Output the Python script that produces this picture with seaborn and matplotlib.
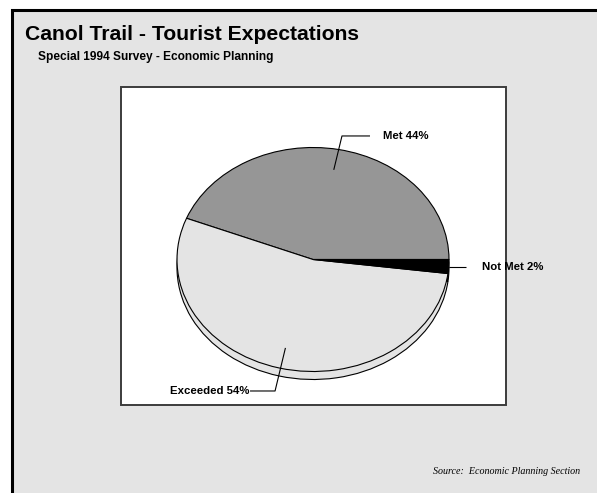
import matplotlib
matplotlib.use("Agg")
import matplotlib.pyplot as plt
from matplotlib.patches import Rectangle
import numpy as np
import seaborn as sns

# Survey results
categories = ["Met", "Exceeded", "Not Met"]
shares = [44, 54, 2]
slice_colors = ["#969696", "#e4e4e4", "#000000"]

title = "Canol Trail - Tourist Expectations"
subtitle = "Special 1994 Survey - Economic Planning"
source = "Source:  Economic Planning Section"

sns.set_style("white")
plt.rcParams["font.family"] = ["Liberation Sans", "DejaVu Sans"]
plt.rcParams["text.color"] = "black"

W, H = 597, 493
fig = plt.figure(figsize=(W / 100, H / 100), dpi=100)
fig.patch.set_facecolor("white")

# Background panel in pixel coordinates
bg = fig.add_axes([0, 0, 1, 1])
bg.set_xlim(0, W)
bg.set_ylim(H, 0)
bg.axis("off")
bg.add_patch(Rectangle((11.5, 9.5), 700, 700, facecolor="#e4e4e4",
                       edgecolor="black", lw=2.2, zorder=0))
bg.add_patch(Rectangle((120.5, 87), 385, 318, facecolor="white",
                       edgecolor="#3c3c3c", lw=1.4, zorder=1))

bg.text(25, 34, title, fontsize=15.2, fontweight="bold", va="center", ha="left")
bg.text(38, 57, subtitle, fontsize=8.6, fontweight="bold", va="center", ha="left")
bg.text(580, 471, source, fontsize=7.2, style="italic", family="Liberation Serif",
        va="center", ha="right")

# Pie axes: unit radius maps to an ellipse (tilted pie)
cx, cy, rx, ry = 313, 259.5, 136, 112
depth = 8 / ry
ax = fig.add_axes([0, 0, 1, 1])
ax.patch.set_alpha(0)

wedge_style = dict(edgecolor="black", linewidth=0.8)
# side of the disc
ax.pie(shares, colors=slice_colors, startangle=0, counterclock=True,
       center=(0, -depth), radius=1, wedgeprops=wedge_style, frame=True)
# top face
ax.pie(shares, colors=slice_colors, startangle=0, counterclock=True,
       center=(0, 0), radius=1, wedgeprops=wedge_style, frame=True)

ax.set_aspect("auto")
ax.set_xlim(-cx / rx, (W - cx) / rx)
ax.set_ylim(-(H - cy) / ry, cy / ry)
ax.axis("off")

# Leader lines and labels
bounds = np.concatenate([[0], np.cumsum(shares)]) / sum(shares) * 360
mids = np.deg2rad((bounds[:-1] + bounds[1:]) / 2)

layout = {
    "Met": dict(r=0.815, elbow=(0.213, 1.103), end=0.419, tx=0.515, ha="left"),
    "Exceeded": dict(r=0.815, elbow=(-0.279, -1.174), end=-0.463, tx=-0.470, ha="right"),
    "Not Met": dict(r=1.0, elbow=None, end=1.125, tx=1.243, ha="left"),
}

for cat, share, t in zip(categories, shares, mids):
    L = layout[cat]
    ax0, ay0 = L["r"] * np.cos(t), L["r"] * np.sin(t)
    if L["elbow"] is not None:
        ex, ey = L["elbow"]
        xs, ys = [ax0, ex, L["end"]], [ay0, ey, ey]
    else:
        ey = ay0
        xs, ys = [ax0, L["end"]], [ay0, ay0]
    ax.plot(xs, ys, color="black", lw=0.8, solid_capstyle="butt")
    ax.text(L["tx"], ey, f"{cat} {share}%", fontsize=8.2, fontweight="bold",
            ha=L["ha"], va="center")

fig.savefig("out.png", dpi=100, facecolor=fig.get_facecolor())
